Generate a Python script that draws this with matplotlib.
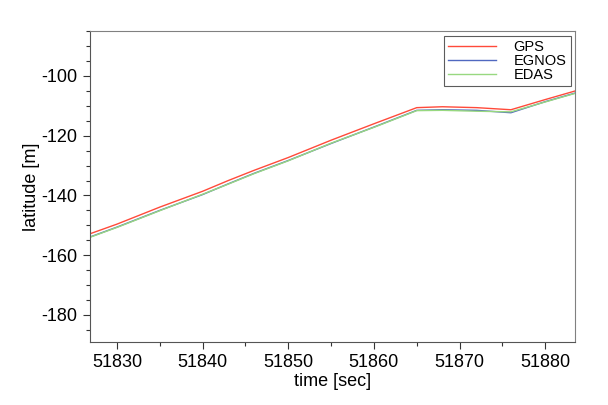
import matplotlib
matplotlib.use("Agg")
import matplotlib.pyplot as plt
from matplotlib.ticker import MultipleLocator

plt.rcParams["font.family"] = ["Liberation Sans", "DejaVu Sans"]

# time [sec] and latitude [m]
time = [51826, 51830, 51835, 51840, 51843, 51846, 51850, 51855,
        51860, 51865, 51868, 51872, 51876, 51880, 51884]
gps = [-153.7, -149.6, -143.9, -138.6, -135.0, -131.6, -127.3, -121.5,
       -116.0, -110.6, -110.3, -110.6, -111.3, -107.9, -104.6]
egnos = [-154.8, -150.6, -145.0, -139.7, -136.1, -132.6, -128.3, -122.6,
         -117.1, -111.5, -111.3, -111.5, -112.3, -108.6, -105.3]
edas = [-154.9, -150.7, -145.1, -139.6, -136.2, -132.7, -128.4, -122.5,
        -117.2, -111.6, -111.5, -111.8, -112.0, -108.7, -105.4]

fig = plt.figure(figsize=(6.08, 4.05), dpi=100)
ax = fig.add_axes([0.148, 0.156, 0.798, 0.767])

ax.plot(time, gps, color="#ff4a3a", lw=1.0, label="GPS")
ax.plot(time, egnos, color="#5068c0", lw=1.0, label="EGNOS")
ax.plot(time, edas, color="#98d880", lw=1.0, label="EDAS")

ax.set_xlim(51826.85, 51883.5)
ax.set_ylim(-189, -85)
ax.xaxis.set_major_locator(MultipleLocator(10))
ax.xaxis.set_minor_locator(MultipleLocator(5))
ax.yaxis.set_major_locator(MultipleLocator(20))
ax.yaxis.set_minor_locator(MultipleLocator(5))
ax.tick_params(which="major", length=5, width=0.8, labelsize=13, colors="#333333",
               labelcolor="black", pad=4)
ax.tick_params(which="minor", length=3, width=0.8, colors="#333333")
ax.yaxis.set_major_formatter(plt.FuncFormatter(lambda v, p: f"{v:.0f}"))
ax.xaxis.set_major_formatter(plt.FuncFormatter(lambda v, p: f"{v:.0f}"))

for s in ["top", "right"]:
    ax.spines[s].set_color("#808080")
for s in ["left", "bottom"]:
    ax.spines[s].set_color("#555555")

ax.set_xlabel("time [sec]", fontsize=13, labelpad=1)
ax.set_ylabel("latitude [m]", fontsize=13, labelpad=1)

leg = ax.legend(loc="upper right", fontsize=10.5, frameon=True, fancybox=False,
                handlelength=3.3, borderaxespad=0.3, labelspacing=0.0,
                handletextpad=1.2, borderpad=0.3)
leg.get_frame().set_edgecolor("#333333")
leg.get_frame().set_linewidth(0.8)

fig.savefig("out.png", dpi=100)
